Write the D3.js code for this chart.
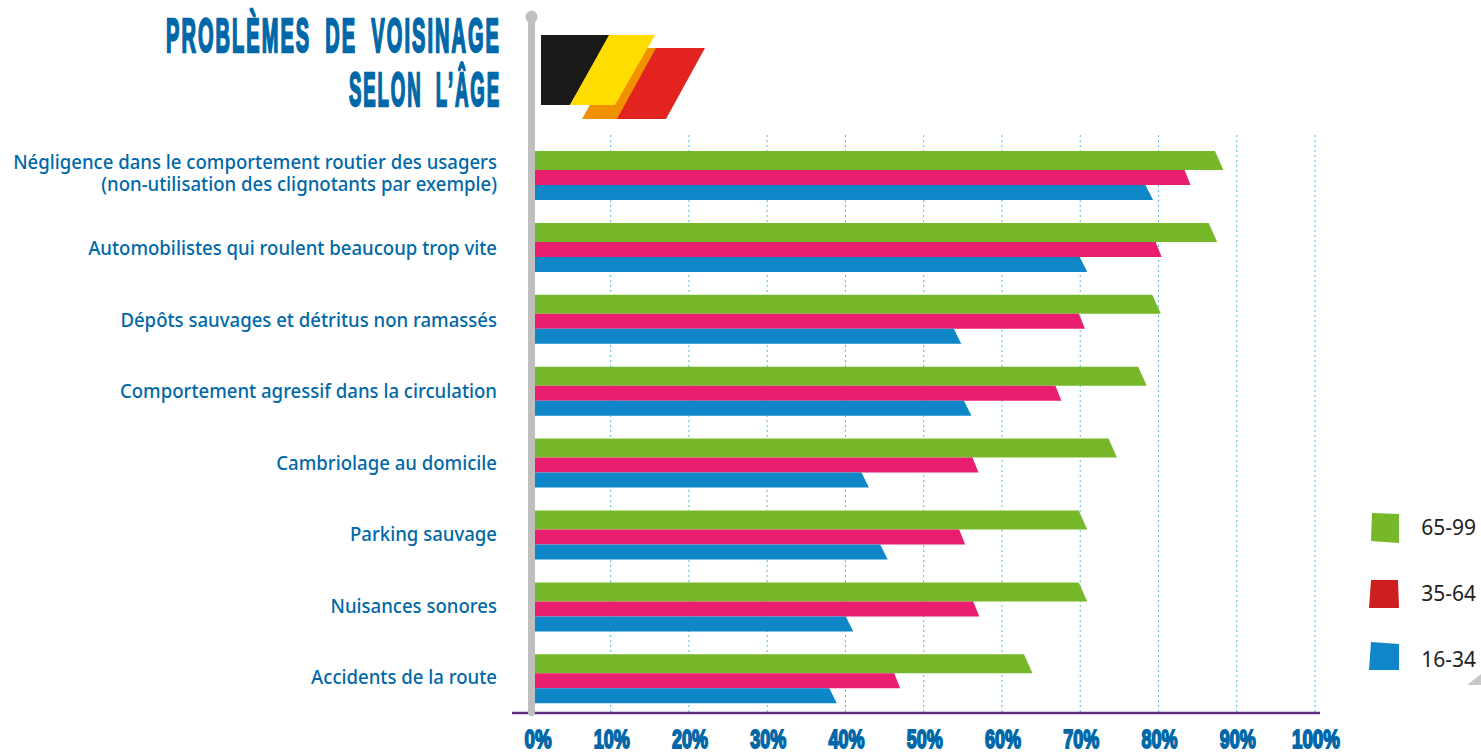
<!DOCTYPE html>
<html><head><meta charset="utf-8">
<style>html,body{margin:0;padding:0;background:#fff;overflow:hidden}svg{display:block}</style>
<script src="https://cdn.jsdelivr.net/npm/d3@7"></script>
</head><body><svg id="c" width="1481" height="753"></svg>
<script>
const categories = [
  ["Négligence dans le comportement routier des usagers","(non-utilisation des clignotants par exemple)"],
  ["Automobilistes qui roulent beaucoup trop vite"],
  ["Dépôts sauvages et détritus non ramassés"],
  ["Comportement agressif dans la circulation"],
  ["Cambriolage au domicile"],
  ["Parking sauvage"],
  ["Nuisances sonores"],
  ["Accidents de la route"]
];
const values6599 = [88.3,87.5,80.3,78.5,74.7,70.9,70.9,63.9];
const values3564 = [84.1,80.4,70.6,67.6,57.0,55.3,57.1,47.0];
const values1634 = [79.3,70.9,54.8,56.1,43.0,45.4,41.0,38.9];
const tickValues = [0,10,20,30,40,50,60,70,80,90,100];
const legendLabels = ["65-99","35-64","16-34"];
const titleLines = ["PROBLÈMES DE VOISINAGE","SELON L’ÂGE"];

const svg = d3.select("#c");
const x = d3.scaleLinear().domain([0,100]).range([532.4,1315]);
const y = d3.scaleBand().domain(d3.range(categories.length)).range([151,151+71.9*8]).paddingInner(0).paddingOuter(0);
const labelY = d3.scaleLinear().domain([1,7]).range([255.5,684.5]);
const BLUE="#0068a8";
const LABEL="'Noto Sans',sans-serif";
const DISPLAY="'Liberation Sans',sans-serif";

// gridlines
svg.append("g").selectAll("line").data(tickValues.slice(1)).join("line")
  .attr("x1",d=>x(d)).attr("x2",d=>x(d)).attr("y1",135).attr("y2",713)
  .attr("stroke","#55bcdc").attr("stroke-width",1).attr("stroke-dasharray","2 3");

// bars
const series=[
  {v:values6599,c:"#76b82a",top:0,h:19,sk:8.5},
  {v:values3564,c:"#e91e6f",top:19,h:15,sk:6},
  {v:values1634,c:"#0e86c8",top:34,h:15,sk:7.5}];
series.forEach(s=>{
  svg.append("g").selectAll("polygon").data(s.v).join("polygon")
    .attr("fill",s.c)
    .attr("points",(d,i)=>{
      const t=y(i)+s.top,b=t+s.h;
      return [[x(0),t],[x(d)-s.sk,t],[x(d),b],[x(0),b]].join(" ");
    });
});

// axis line + pole
svg.append("line").attr("x1",512).attr("x2",1320).attr("y1",713).attr("y2",713).attr("stroke","#5f2f86").attr("stroke-width",2.5);
svg.append("rect").attr("x",528).attr("y",17).attr("width",7).attr("height",699).attr("rx",3).attr("fill","#bfbfbf");
svg.append("ellipse").attr("cx",531.5).attr("cy",17).attr("rx",6).attr("ry",6.5).attr("fill","#bfbfbf");

// tick labels
svg.append("g").selectAll("text").data(tickValues).join("text")
  .attr("x",d=>d===0?538:x(d)+1).attr("y",748).attr("text-anchor","middle")
  .attr("font-family",DISPLAY).attr("font-weight",700).attr("font-size",26.5)
  .attr("fill",BLUE).attr("stroke",BLUE).attr("stroke-width",1.8)
  .attr("textLength",d=>d===0?27:d===100?48:36).attr("lengthAdjust","spacingAndGlyphs")
  .text(d=>d+"%");

// category labels
const lab=svg.append("g").attr("transform","translate(497,0) scale(0.953,1)")
  .selectAll("text").data(categories).join("text")
  .attr("text-anchor","end").attr("font-family",LABEL).attr("font-weight",500).attr("font-size",19.5).attr("fill",BLUE);
lab.each(function(d,i){
  const t=d3.select(this);
  const base=d.length>1?169:labelY(i);
  d.forEach((line,k)=>t.append("tspan").attr("x",0).attr("y",base+k*22).text(line));
});

// title
svg.append("g").selectAll("text").data(titleLines).join("text")
  .attr("x",501).attr("y",(d,i)=>i?106:52).attr("text-anchor","end")
  .attr("font-family",DISPLAY).attr("font-weight",700).attr("font-size",49)
  .attr("letter-spacing",5).attr("word-spacing",16)
  .attr("fill",BLUE).attr("stroke",BLUE).attr("stroke-width",2.4)
  .attr("textLength",(d,i)=>i?152:335).attr("lengthAdjust","spacingAndGlyphs")
  .text(d=>d);

// flag
const line=d3.line();
const flag=[
  {c:"#f29100",p:[[582,119],[620,119],[660,48],[622,48]]},
  {c:"#e2231f",p:[[617,119],[666,119],[705,48],[656,48]]},
  {c:"#1a1a18",p:[[541,35],[610,35],[570,105],[541,105]]},
  {c:"#ffdd00",p:[[609,35],[655,35],[615,105],[570,105]]}];
svg.append("g").selectAll("path").data(flag).join("path").attr("fill",d=>d.c).attr("d",d=>line(d.p)+"Z");

// legend
const legendColors=["#76b82a","#cd1f1f","#0e86c8"];
const legendShapes=[
  [[1372,513],[1399,514],[1399,543],[1371,541]],
  [[1371,580],[1398,580],[1399,608],[1369,608]],
  [[1371,642],[1399,644],[1399,670],[1369,670]]];
svg.append("g").selectAll("path").data(legendShapes).join("path")
  .attr("fill",(d,i)=>legendColors[i]).attr("d",d=>line(d)+"Z");
svg.append("g").selectAll("text").data(legendLabels).join("text")
  .attr("x",1476).attr("y",(d,i)=>[535,601,667][i]).attr("text-anchor","end")
  .attr("font-family",LABEL).attr("font-size",21).attr("fill","#222").text(d=>d);
svg.append("path").attr("d","M1467 685L1481 674L1481 685Z").attr("fill","#c8c8c8");
</script></body></html>
